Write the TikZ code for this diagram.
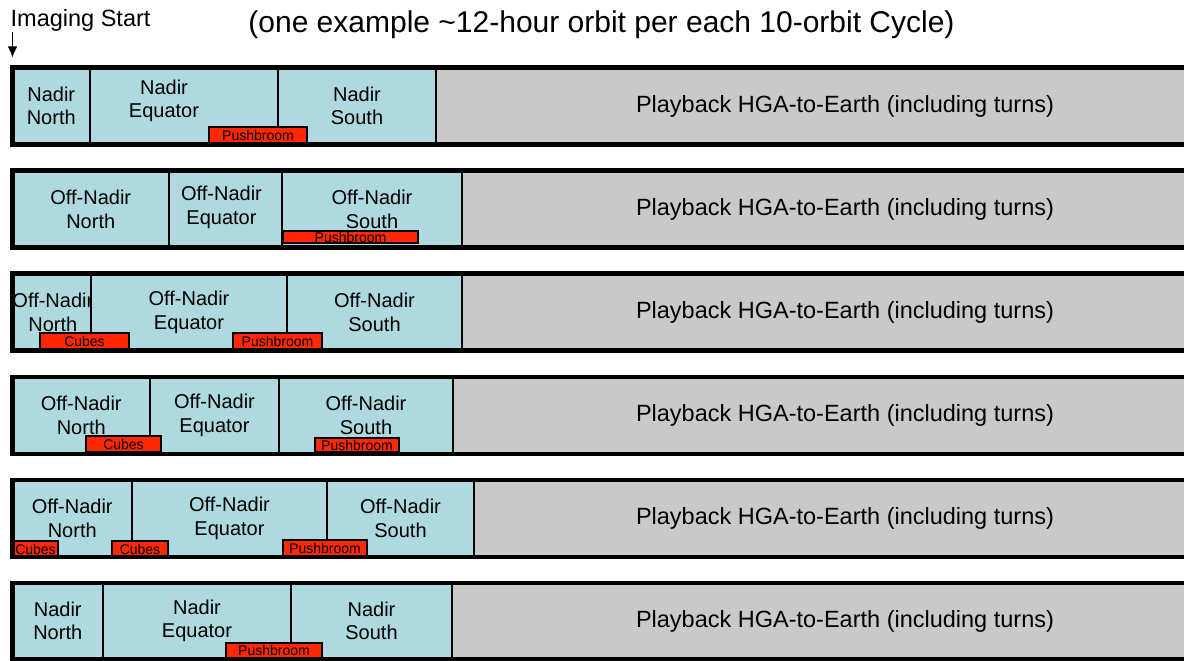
\documentclass[tikz,border=0pt]{standalone}
\usepackage{fontspec}
\setmainfont{Liberation Sans}
\usetikzlibrary{calc, arrows.meta}

\definecolor{cellblue}{RGB}{174,217,222}
\definecolor{playgray}{RGB}{201,201,201}
\definecolor{modered}{RGB}{255,40,0}

\begin{document}
\begin{tikzpicture}[x=1pt, y=-1pt,
    cell/.style={draw, line width=2.5pt, fill=cellblue, anchor=north west,
        minimum height=77pt, inner sep=0pt, outer sep=0pt, align=center,
        font=\fontsize{20}{23.5}\selectfont},
    cell text/.style={inner sep=0pt, align=center,
        font=\fontsize{20}{23.5}\selectfont},
    playback/.style={cell, fill=playgray,
        font=\fontsize{23.5}{26}\selectfont},
    mode/.style={draw, line width=1.8pt, fill=modered, anchor=south west,
        inner sep=0pt, outer sep=0pt, minimum height=16pt,
        font=\fontsize{14}{14}\selectfont},
    orbit/.style={line width=4.5pt}]

    \path[use as bounding box, clip] (0, 0) rectangle (1184, 661);

    \node (title) at (601.5, 33) 
        [anchor=base, font=\fontsize{30}{36}\selectfont] 
        {(one example \textasciitilde12-hour orbit per each 10-orbit Cycle)};
    \node (imaging_start) at (10.5, 27) 
        [anchor=base west, inner sep=0pt, font=\fontsize{23.5}{27}\selectfont] 
        {Imaging Start};

    % Orbit 1
    \node (row1_north) at (12.5, 67.5) [cell, minimum width=77.5pt] {Nadir\\North};
    \node (row1_equator) at (90, 67.5) [cell, minimum width=188pt] {};
    \node (row1_equator_text) at ($(row1_equator) + (-20, -5)$) 
        [cell text] {Nadir\\Equator};
    \node (row1_south) at (278, 67.5) [cell, minimum width=158pt] {Nadir\\South};
    \node (row1_playback) at (436, 67.5) [playback, minimum width=818pt] 
        {Playback HGA-to-Earth (including turns)};
    \node (row1_pushbroom) at (209, 143) [mode, minimum width=98pt] {Pushbroom};
    \draw[orbit] (row1_north.north west) rectangle (row1_playback.south east);

    % Orbit 2
    \node (row2_north) at (12.5, 170.6) [cell, minimum width=156.5pt] {Off-Nadir\\North};
    \node (row2_equator) at (169, 170.6) [cell, minimum width=113pt] {};
    \node (row2_equator_text) at ($(row2_equator) + (-4, -2)$) 
        [cell text] {Off-Nadir\\Equator};
    \node (row2_south) at (282, 170.6) [cell, minimum width=180pt] {Off-Nadir\\South};
    \node (row2_playback) at (462, 170.6) [playback, minimum width=766pt] 
        {Playback HGA-to-Earth (including turns)};
    \node (row2_pushbroom) at (283, 243.3) 
        [mode, minimum width=135pt, minimum height=12.6pt] {Pushbroom};
    \draw[orbit] (row2_north.north west) rectangle (row2_playback.south east);

    % Orbit 3
    \node (row3_north) at (12.5, 273.7) [cell, minimum width=78.5pt] {Off-Nadir\\North};
    \node (row3_equator) at (91, 273.7) [cell, minimum width=196pt] {Off-Nadir\\Equator};
    \node (row3_south) at (287, 273.7) [cell, minimum width=175pt] {Off-Nadir\\South};
    \node (row3_playback) at (462, 273.7) [playback, minimum width=766pt] 
        {Playback HGA-to-Earth (including turns)};
    \node (row3_cubes) at (40, 349) [mode, minimum width=89pt] {Cubes};
    \node (row3_pushbroom) at (233, 349) [mode, minimum width=89pt] {Pushbroom};
    \draw[orbit] (row3_north.north west) rectangle (row3_playback.south east);

    % Orbit 4
    \node (row4_north) at (12.5, 376.8) [cell, minimum width=137.5pt] {Off-Nadir\\North};
    \node (row4_equator) at (150, 376.8) [cell, minimum width=129pt] {Off-Nadir\\Equator};
    \node (row4_south) at (279, 376.8) [cell, minimum width=174pt] {Off-Nadir\\South};
    \node (row4_playback) at (453, 376.8) [playback, minimum width=784pt] 
        {Playback HGA-to-Earth (including turns)};
    \node (row4_cubes) at (86, 452) [mode, minimum width=75pt] {Cubes};
    \node (row4_pushbroom) at (315, 452) 
        [mode, minimum width=84pt, minimum height=14pt] {Pushbroom};
    \draw[orbit] (row4_north.north west) rectangle (row4_playback.south east);

    % Orbit 5
    \node (row5_north) at (12.5, 479.9) [cell, minimum width=119.5pt] {Off-Nadir\\North};
    \node (row5_equator) at (132, 479.9) [cell, minimum width=195pt] {Off-Nadir\\Equator};
    \node (row5_south) at (327, 479.9) [cell, minimum width=147pt] {Off-Nadir\\South};
    \node (row5_playback) at (474, 479.9) [playback, minimum width=742pt] 
        {Playback HGA-to-Earth (including turns)};
    \node (row5_cubes_north) at (13, 557) [mode, minimum width=45pt] {Cubes};
    \node (row5_cubes_equator) at (112, 557) [mode, minimum width=56pt] {Cubes};
    \node (row5_pushbroom) at (283, 556) [mode, minimum width=84pt] {Pushbroom};
    \draw[orbit] (row5_north.north west) rectangle (row5_playback.south east);

    % Orbit 6
    \node (row6_north) at (12.5, 583) 
        [cell, minimum width=90.5pt, minimum height=76pt] {Nadir\\North};
    \node (row6_equator) at (103, 583) 
        [cell, minimum width=188pt, minimum height=76pt] {Nadir\\Equator};
    \node (row6_south) at (291, 583) 
        [cell, minimum width=161pt, minimum height=76pt] {Nadir\\South};
    \node (row6_playback) at (452, 583) 
        [playback, minimum width=786pt, minimum height=76pt] 
        {Playback HGA-to-Earth (including turns)};
    \node (row6_pushbroom) at (226, 658) 
        [mode, minimum width=96pt, minimum height=15pt] {Pushbroom};
    \draw[orbit] (row6_north.north west) rectangle (row6_playback.south east);

    \draw [-{Latex[length=11pt, width=10pt]}, line width=1.8pt] 
        (row1_north.north west |- imaging_start.south) -- 
        ($(row1_north.north west) + (0, -10)$);
\end{tikzpicture}
\end{document}
